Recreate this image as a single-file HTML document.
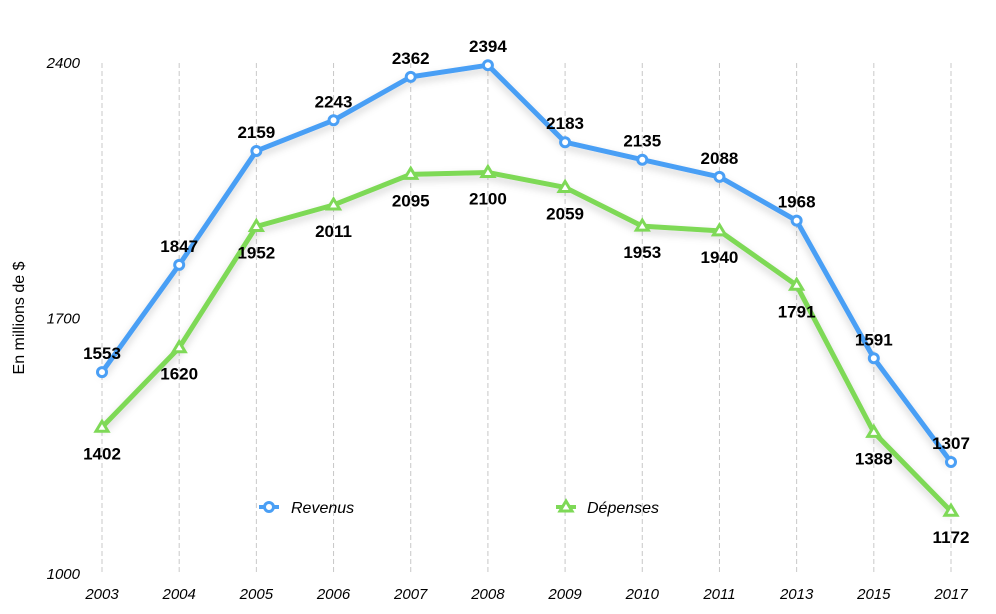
<!DOCTYPE html>
<html><head><meta charset="utf-8"><style>
html,body{margin:0;padding:0;background:#fff;}
svg{display:block;font-family:"Liberation Sans",sans-serif;}
</style></head><body>
<svg id="chart" width="996" height="614" viewBox="0 0 996 614">
<defs><filter id="sh" x="-10%" y="-10%" width="120%" height="130%"><feDropShadow dx="0" dy="4" stdDeviation="4" flood-color="#000" flood-opacity="0.18"/></filter></defs>
<g id="grid"></g>
<g id="yaxis"></g>
<g id="xaxis"></g>
<text x="24" y="318" transform="rotate(-90 24 318)" text-anchor="middle" font-size="16" fill="#000">En millions de $</text>
<g id="series"></g>
<g id="labels"></g>
<g>
<g>
<line x1="259" y1="507" x2="279" y2="507" stroke="#4a9ff5" stroke-width="4"/>
<circle cx="269" cy="507" r="4.5" fill="#fff" stroke="#4a9ff5" stroke-width="3"/>
<text x="291" y="513" font-size="16" font-style="italic">Revenus</text>
</g>
<g>
<line x1="556" y1="507" x2="576" y2="507" stroke="#7ed957" stroke-width="4"/>
<polygon points="566,501 572,511 560,511" fill="#fff" stroke="#7ed957" stroke-width="3"/>
<text x="587" y="513" font-size="16" font-style="italic">Dépenses</text>
</g>
</g>
</svg>
<script>
const categories=["2003","2004","2005","2006","2007","2008","2009","2010","2011","2013","2015","2017"];
const revenus=[1553,1847,2159,2243,2362,2394,2183,2135,2088,1968,1591,1307];
const depenses=[1402,1620,1952,2011,2095,2100,2059,1953,1940,1791,1388,1172];
const yTicks=[1000,1700,2400];
const NS="http://www.w3.org/2000/svg";
const x0=102,x1=951,yMin=1000,yMax=2400,py0=574,py1=63;
function xs(i){return x0+(x1-x0)*i/(categories.length-1);}
function ys(v){return py0-(v-yMin)/(yMax-yMin)*(py0-py1);}
function mk(tag,attrs,parent){const e=document.createElementNS(NS,tag);for(const k in attrs)e.setAttribute(k,attrs[k]);parent.appendChild(e);return e;}
const grid=document.getElementById('grid'),xa=document.getElementById('xaxis'),ya=document.getElementById('yaxis'),ser=document.getElementById('series'),lab=document.getElementById('labels');
categories.forEach((c,i)=>{
  const l=mk('line',{x1:xs(i),x2:xs(i),y1:ys(yMax),y2:572,stroke:'#c8c8c8','stroke-width':1,'stroke-dasharray':'5,3'},grid);
  
  
  const t=mk('text',{x:xs(i),y:599,'text-anchor':'middle','font-size':15,'font-style':'italic'},xa);
  t.textContent=c;
  
  
});
yTicks.forEach(v=>{
  const t=mk('text',{x:80,y:ys(v)+5,'text-anchor':'end','font-size':15,'font-style':'italic'},ya);
  t.textContent=v;
  
  
});
function draw(data,color,name,shape,above){
  const pts=data.map((v,i)=>xs(i)+','+ys(v)).join(' ');
  const pl=mk('polyline',{points:pts,fill:'none',stroke:color,'stroke-width':5,'stroke-linejoin':'round',filter:'url(#sh)'},ser);
  
  
  data.forEach((v,i)=>{
    const x=xs(i),y=ys(v);let m;
    if(shape==='circle') m=mk('circle',{cx:x,cy:y,r:4.5,fill:'#fff',stroke:color,'stroke-width':3},ser);
    else m=mk('polygon',{points:`${x},${y-6} ${x+6},${y+4} ${x-6},${y+4}`,fill:'#fff',stroke:color,'stroke-width':3},ser);
    
    
    const t=mk('text',{x:x,y:above?y-13:y+32,'text-anchor':'middle','font-size':17,'font-weight':'bold'},lab);
    t.textContent=v;
    
    
  });
}
draw(depenses,'#7ed957','depenses','tri',false);
draw(revenus,'#4a9ff5','revenus','circle',true);
</script>
</body></html>
